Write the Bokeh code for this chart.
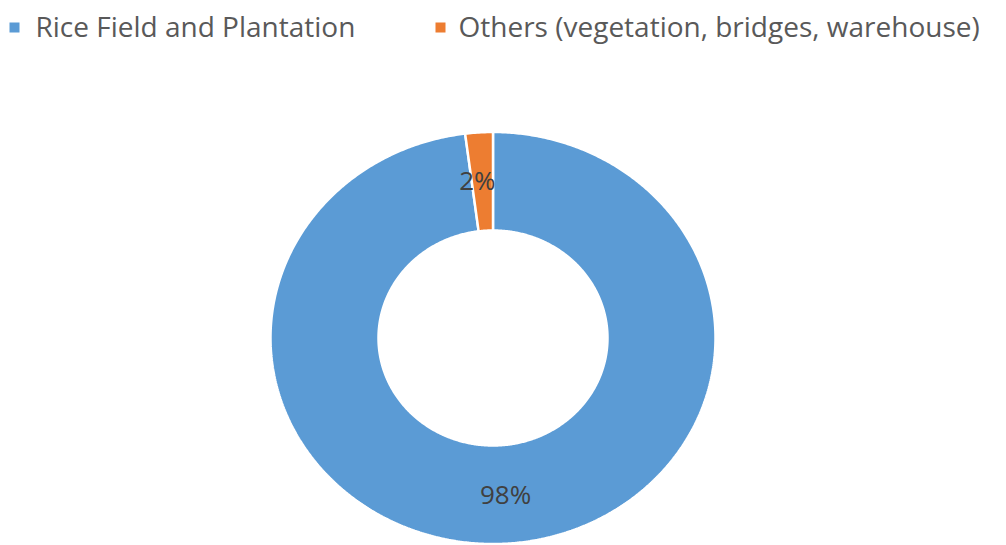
import numpy as np
from bokeh.plotting import figure
from bokeh.models import Range1d
from bokeh.core.properties import value
from bokeh.embed import file_html
from bokeh.resources import INLINE

# ---- data ----
categories = ["Rice Field and Plantation", "Others (vegetation, bridges, warehouse)"]
shares = [98, 2]
colors = ["#5B9BD5", "#ED7D31"]

# ---- layout ----
W, H = 1006, 545
cx_px, cy_px = 492.5, 337.5
rx_out, ry_out = 222.5, 206.0
rx_in, ry_in = 114.5, 107.5

p = figure(width=W, height=H,
           x_range=Range1d(-cx_px, W - cx_px),
           y_range=Range1d(-(H - cy_px), cy_px),
           output_backend="svg", toolbar_location=None,
           x_axis_location=None, y_axis_location=None, min_border=0)
p.grid.visible = False
p.outline_line_color = None
p.background_fill_color = "white"
p.border_fill_color = "white"

total = float(sum(shares))
cum = 0.0
xs, ys, lx, ly, labels = [], [], [], [], []
for s in shares:
    f0 = cum / total
    f1 = (cum + s) / total
    cum += s
    a0 = np.pi / 2 - 2 * np.pi * f0
    a1 = np.pi / 2 - 2 * np.pi * f1
    t = np.linspace(a0, a1, max(8, int(abs(a1 - a0) * 120)))
    px = np.concatenate([rx_out * np.cos(t), rx_in * np.cos(t[::-1])])
    py = np.concatenate([ry_out * np.sin(t), ry_in * np.sin(t[::-1])])
    xs.append(list(px))
    ys.append(list(py))
    am = (a0 + a1) / 2
    lx.append((rx_out + rx_in) / 2 * np.cos(am))
    ly.append((ry_out + ry_in) / 2 * np.sin(am))
    labels.append(f"{round(s / total * 100)}%")

p.patches(xs, ys, fill_color=colors, line_color="white", line_width=2.5)

p.text(lx, ly, text=labels, text_align="center", text_baseline="middle",
       x_offset=[2, -5], y_offset=[0, -2],
       text_font=value("Open Sans"), text_font_size="26px", text_color="#404040")

# legend
leg_y = cy_px - 25
marker_x = [14 - cx_px, 440 - cx_px]
text_x = [35 - cx_px, 458 - cx_px]
p.scatter(marker_x, [cy_px - 27] * 2, marker="square", size=10,
          fill_color=colors, line_color=None)
p.text(text_x, [leg_y] * 2, text=categories, text_align="left", text_baseline="middle",
       text_font=value("Open Sans"), text_font_size="28px", text_color="#595959")

open("out.html", "w").write(file_html(p, INLINE))
